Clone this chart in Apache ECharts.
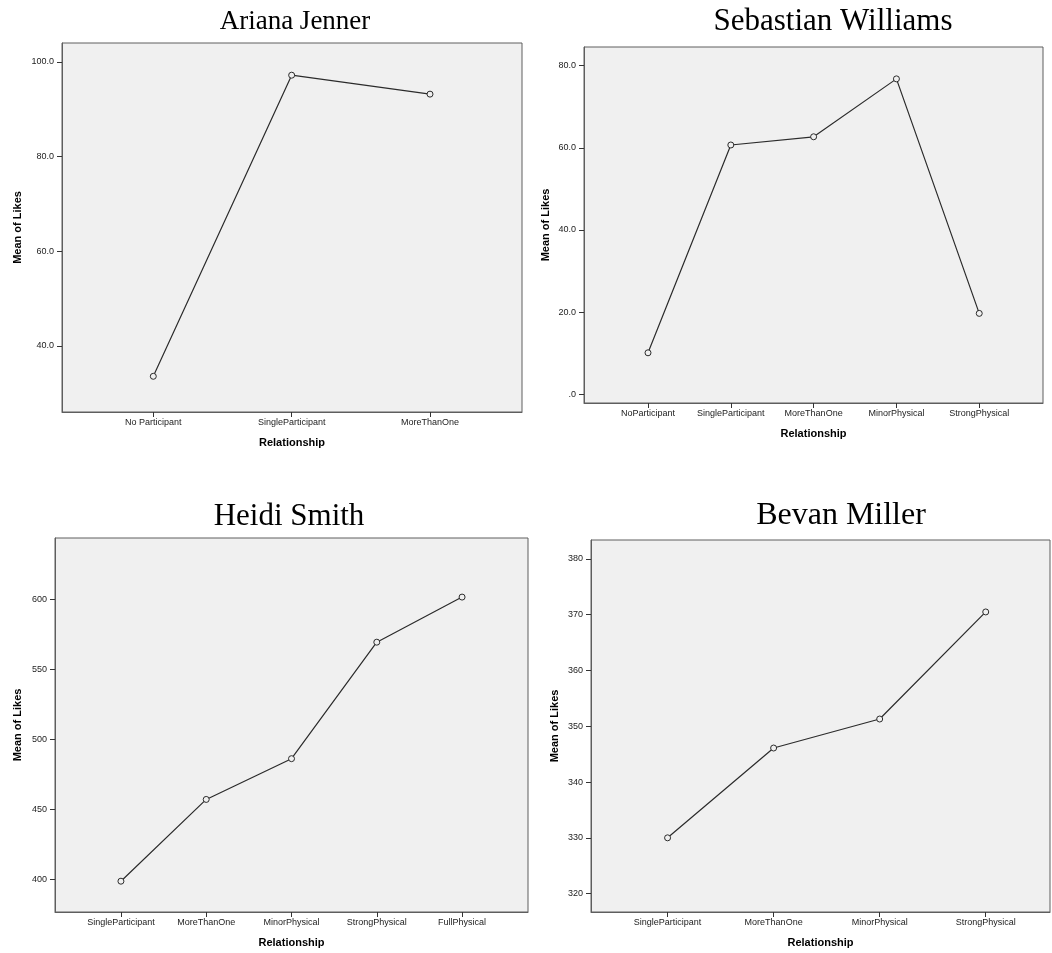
<!DOCTYPE html>
<html>
<head>
<meta charset="utf-8">
<script src="https://cdn.jsdelivr.net/npm/echarts@6/dist/echarts.min.js"></script>
<style>
  html, body { margin: 0; padding: 0; background: #ffffff; }
  #chart { width: 1052px; height: 953px; }
</style>
</head>
<body>
<div id="chart"></div>
<script>
// ---- Data ----
const arianaTitle = 'Ariana Jenner';
const arianaCategories = ['No Participant', 'SingleParticipant', 'MoreThanOne'];
const arianaValues = [33.6, 97.2, 93.2];
const arianaYTicks = [40, 60, 80, 100];

const sebastianTitle = 'Sebastian Williams';
const sebastianCategories = ['NoParticipant', 'SingleParticipant', 'MoreThanOne', 'MinorPhysical', 'StrongPhysical'];
const sebastianValues = [10.1, 60.7, 62.7, 76.8, 19.7];
const sebastianYTicks = [0, 20, 40, 60, 80];

const heidiTitle = 'Heidi Smith';
const heidiCategories = ['SingleParticipant', 'MoreThanOne', 'MinorPhysical', 'StrongPhysical', 'FullPhysical'];
const heidiValues = [398.8, 457.2, 486.3, 569.5, 601.7];
const heidiYTicks = [400, 450, 500, 550, 600];

const bevanTitle = 'Bevan Miller';
const bevanCategories = ['SingleParticipant', 'MoreThanOne', 'MinorPhysical', 'StrongPhysical'];
const bevanValues = [330.0, 346.1, 351.3, 370.5];
const bevanYTicks = [320, 330, 340, 350, 360, 370, 380];

const xAxisTitle = 'Relationship';
const yAxisTitle = 'Mean of Likes';

// ---- Layout / style ----
const panels = [
  { title: arianaTitle, cats: arianaCategories, vals: arianaValues, yTicks: arianaYTicks, dec: 1,
    grid: { left: 62, top: 43, width: 460, height: 369 }, xMin: -0.66, xMax: 2.665, yMin: 26.06, yMax: 104.0,
    yNameGap: 39, titleX: 290, titleY: 3, titleSize: 27 },
  { title: sebastianTitle, cats: sebastianCategories, vals: sebastianValues, yTicks: sebastianYTicks, dec: 1,
    grid: { left: 584, top: 47, width: 459, height: 356 }, xMin: -0.773, xMax: 4.77, yMin: -2.12, yMax: 84.56,
    yNameGap: 33, titleX: 828, titleY: 1, titleSize: 31 },
  { title: heidiTitle, cats: heidiCategories, vals: heidiValues, yTicks: heidiYTicks, dec: 0,
    grid: { left: 55, top: 538, width: 473, height: 374 }, xMin: -0.773, xMax: 4.773, yMin: 376.8, yMax: 643.9,
    yNameGap: 32, titleX: 284, titleY: 496, titleSize: 31 },
  { title: bevanTitle, cats: bevanCategories, vals: bevanValues, yTicks: bevanYTicks, dec: 0,
    grid: { left: 591, top: 540, width: 459, height: 372 }, xMin: -0.722, xMax: 3.606, yMin: 316.7, yMax: 383.4,
    yNameGap: 31, titleX: 836, titleY: 495, titleSize: 32 }
];

const lineColor = '#2b2b2b';
const frameColor = '#5e5e5e';
const labelFont = 'Liberation Sans, Arial, sans-serif';

function fmtY(v, dec) {
  if (dec === 0) return String(Math.round(v));
  let s = v.toFixed(dec);
  if (s.startsWith('0.')) s = s.slice(1);
  return s;
}

const option = {
  backgroundColor: '#ffffff',
  animation: false,
  title: panels.map(p => ({
    text: p.title,
    left: p.titleX,
    top: p.titleY,
    textAlign: 'center',
    textStyle: { fontFamily: 'Liberation Serif, Times New Roman, serif', fontSize: p.titleSize, fontWeight: 'normal', color: '#000' }
  })),
  grid: panels.map(p => Object.assign({
    show: true, backgroundColor: '#f0f0f0', borderColor: frameColor, borderWidth: 1, containLabel: false
  }, p.grid)),
  xAxis: panels.map((p, i) => ({
    type: 'value', gridIndex: i, min: p.xMin, max: p.xMax, position: 'bottom',
    name: xAxisTitle, nameLocation: 'middle', nameGap: 25,
    nameTextStyle: { fontFamily: labelFont, fontSize: 11, fontWeight: 'bold', color: '#000' },
    axisLine: { show: true, onZero: false, lineStyle: { color: frameColor, width: 1 } },
    axisTick: { show: true, length: 5, lineStyle: { color: '#333' }, customValues: p.cats.map((c, k) => k) },
    axisLabel: { show: true, margin: 6, fontFamily: labelFont, fontSize: 9, color: '#222',
      customValues: p.cats.map((c, k) => k),
      formatter: v => p.cats[Math.round(v)] },
    splitLine: { show: false }
  })),
  yAxis: panels.map((p, i) => ({
    type: 'value', gridIndex: i, min: p.yMin, max: p.yMax, position: 'left',
    name: yAxisTitle, nameLocation: 'middle', nameGap: p.yNameGap, nameRotate: 90,
    nameTextStyle: { fontFamily: labelFont, fontSize: 11, fontWeight: 'bold', color: '#000' },
    axisLine: { show: true, onZero: false, lineStyle: { color: frameColor, width: 1 } },
    axisTick: { show: true, length: 5, lineStyle: { color: '#333' }, customValues: p.yTicks },
    axisLabel: { show: true, margin: 8, fontFamily: labelFont, fontSize: 9, color: '#222',
      customValues: p.yTicks, formatter: v => fmtY(v, p.dec) },
    splitLine: { show: false }
  })),
  series: panels.map((p, i) => ({
    type: 'line', xAxisIndex: i, yAxisIndex: i,
    data: p.vals.map((v, k) => [k, v]),
    symbol: 'circle', symbolSize: 6,
    lineStyle: { color: lineColor, width: 1.2 },
    itemStyle: { color: '#f0f0f0', borderColor: lineColor, borderWidth: 1 },
    emphasis: { disabled: true }
  }))
};

const chart = echarts.init(document.getElementById('chart'), null, { renderer: 'canvas' });
chart.setOption(option);
</script>
</body>
</html>
